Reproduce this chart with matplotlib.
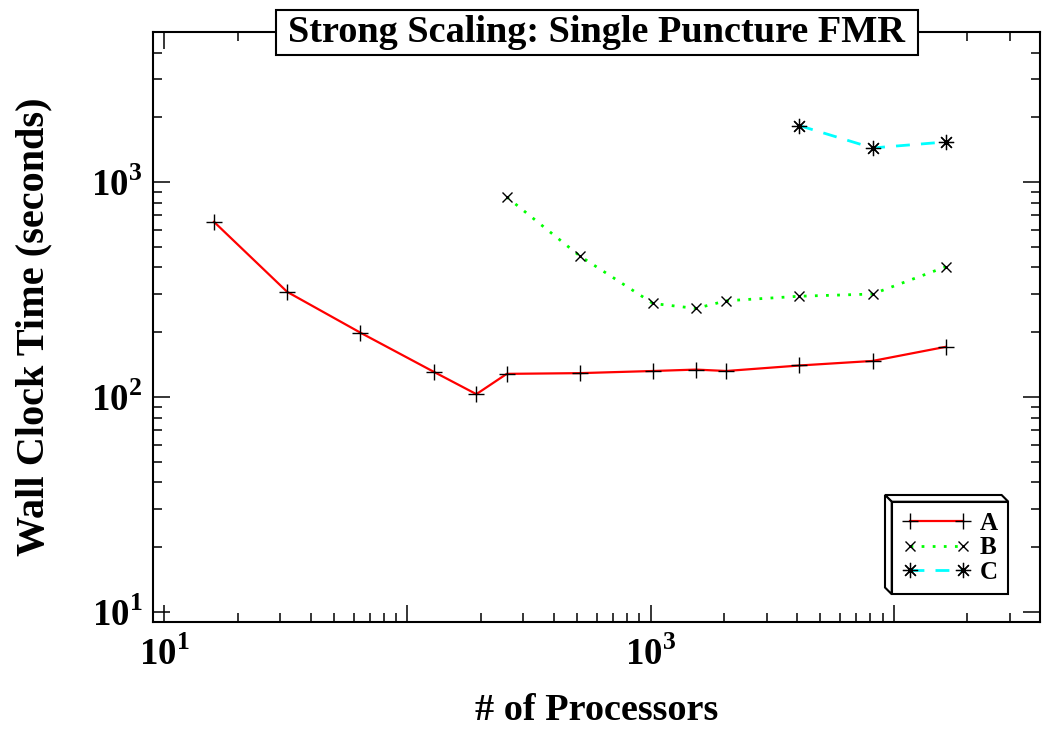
import numpy as np
import matplotlib
matplotlib.use("Agg")
import matplotlib.pyplot as plt
from matplotlib.ticker import LogLocator, NullFormatter
from matplotlib.patches import Rectangle, Polygon

plt.rcParams['font.family'] = ['Liberation Serif', 'DejaVu Serif']
plt.rcParams['font.weight'] = 'bold'
plt.rcParams['mathtext.fontset'] = 'custom'
plt.rcParams['mathtext.rm'] = 'Liberation Serif:bold'
plt.rcParams['mathtext.bf'] = 'Liberation Serif:bold'

# processors / wall clock seconds
procs_a = [16, 32, 64, 128, 192, 256, 512, 1024, 1536, 2048, 4096, 8192, 16384]
time_a = [652, 308, 199, 131, 103, 128, 129, 132, 134, 132, 140, 147, 171]
procs_b = [256, 512, 1024, 1536, 2048, 4096, 8192, 16384]
time_b = [851, 452, 272, 258, 280, 294, 301, 403]
procs_c = [4096, 8192, 16384]
time_c = [1828, 1439, 1535]

xticks = [10, 100, 1000, 10000]
xticklabels = [r'$10^{1}$', '', r'$10^{3}$', '']
yticks = [10, 100, 1000]
yticklabels = [r'$10^{1}$', r'$10^{2}$', r'$10^{3}$']

W, H = 1042, 729
fig = plt.figure(figsize=(W / 100, H / 100), dpi=100)
ax = fig.add_axes([153.3 / W, 1 - 621.7 / H, (1040 - 153.3) / W, (621.7 - 31.7) / H])

ax.plot(procs_a, time_a, color='#ff0000', lw=1.6, marker='+', ms=11, mec='black', mew=1.0, label='A')
ax.plot(procs_b, time_b, color='#00ff00', lw=2.0, ls=(0, (1, 3)), marker='x', ms=7, mec='black', mew=1.0, label='B')
ax.plot(procs_c, time_c, color='#00ffff', lw=2.0, ls=(0, (5, 4)), marker=(8, 2, 0), ms=11, mec='black', mew=0.9, label='C')

ax.set_xscale('log')
ax.set_yscale('log')
ax.set_xlim(9, 40000)
ax.set_ylim(9, 5000)

ax.set_xticks(xticks)
ax.set_xticklabels(xticklabels)
ax.set_yticks(yticks)
ax.set_yticklabels(yticklabels)
ax.xaxis.set_minor_locator(LogLocator(base=10, subs=np.arange(2, 10)))
ax.yaxis.set_minor_locator(LogLocator(base=10, subs=np.arange(2, 10)))
ax.xaxis.set_minor_formatter(NullFormatter())
ax.yaxis.set_minor_formatter(NullFormatter())

ax.tick_params(which='both', direction='in', top=True, right=True, width=1.1)
ax.tick_params(which='major', length=12.5, labelsize=26.5)
ax.tick_params(which='minor', length=6.5)
ax.tick_params(axis='x', which='major', pad=11)
ax.tick_params(axis='y', which='major', pad=8)
for s in ax.spines.values():
    s.set_linewidth(1.5)

ax.set_xlabel('# of Processors', fontsize=27.5, fontweight='bold', labelpad=14)
ax.set_ylabel('Wall Clock Time (seconds)', fontsize=29, fontweight='bold', labelpad=28)

# title in a boxed label over the top spine
fig.add_artist(Rectangle((275.7 / W, 1 - 54.5 / H), (918.3 - 275.7) / W, 44.5 / H,
                         transform=fig.transFigure, facecolor='white', edgecolor='black', lw=1.5, zorder=5))
fig.text(597 / W, 1 - 33 / H, 'Strong Scaling: Single Puncture FMR', fontsize=27.5, fontweight='bold',
         ha='center', va='center', zorder=6)

leg = ax.legend(loc='upper left', bbox_to_anchor=(891.7 / W, 1 - 501.7 / H), bbox_transform=fig.transFigure,
                numpoints=2, fontsize=18, frameon=True, fancybox=False, edgecolor='black', framealpha=1,
                handlelength=2.75, handletextpad=0.35, labelspacing=0.05, borderpad=0.42, borderaxespad=0)
leg.get_frame().set_linewidth(1.5)
leg.set_zorder(7)

# 3D bevel on the legend box
fig.canvas.draw()
bb = leg.get_frame().get_window_extent()
d = 6.7
inv = fig.transFigure.inverted()
x0, y0, x1, y1 = bb.x0, bb.y0, bb.x1, bb.y1
top_face = [(x0, y1), (x0 - d, y1 + d), (x1 - d, y1 + d), (x1, y1)]
left_face = [(x0, y1), (x0 - d, y1 + d), (x0 - d, y0 + d), (x0, y0)]
for face in (top_face, left_face):
    pts = inv.transform(face)
    fig.add_artist(Polygon(pts, closed=True, transform=fig.transFigure, facecolor='white',
                           edgecolor='black', lw=1.5, zorder=8))

fig.savefig('out.png', dpi=100)
